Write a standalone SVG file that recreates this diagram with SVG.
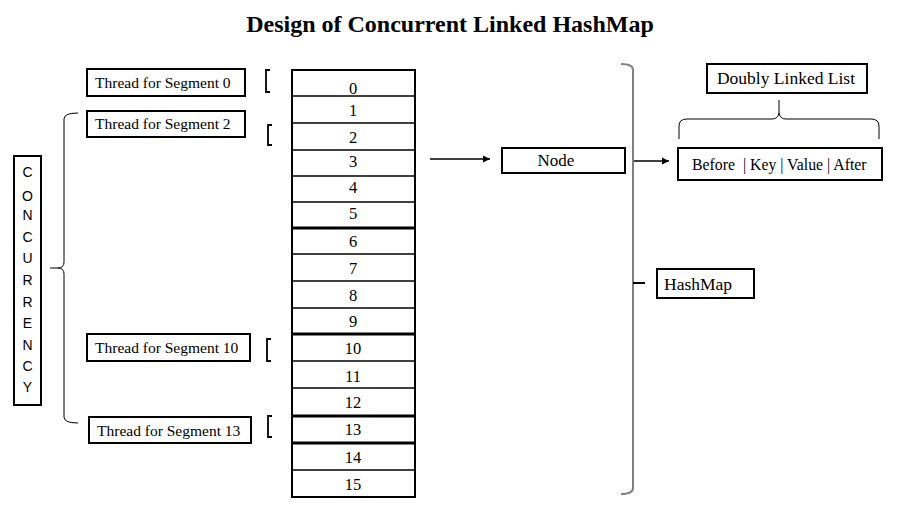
<svg xmlns="http://www.w3.org/2000/svg" width="920" height="523" viewBox="0 0 920 523">
<style>
.box{fill:#fff;stroke:#000;stroke-width:2}
.t{font-family:"Liberation Serif","Times New Roman",serif;fill:#000}
.thr{font-size:15.5px}
.num{font-size:16.5px;text-anchor:middle}
.cell{stroke:#000;stroke-width:1.5}
.thick{stroke:#000;stroke-width:3}
.brk{fill:none;stroke:#000;stroke-width:1.8}
.brace{fill:none;stroke:#000;stroke-width:1}
.conn{stroke:#000;stroke-width:1.6;fill:none}
.sans{font-family:"Liberation Sans",Arial,sans-serif;font-size:14px;text-anchor:middle;fill:#000}
</style>
<defs>
<marker id="ah" markerWidth="8" markerHeight="8" refX="7" refY="4" orient="auto" markerUnits="userSpaceOnUse">
<path d="M0,0.5 L7,4 L0,7.5 Z" fill="#000"/>
</marker>
</defs>
<rect width="920" height="523" fill="#fff"/>
<text class="t" x="450" y="32" font-size="24" font-weight="bold" text-anchor="middle">Design of Concurrent Linked HashMap</text>

<g id="concurrency">
<rect class="box" x="14" y="156" width="27" height="249"/>
<text class="sans" x="27.5" y="177">C</text>
<text class="sans" x="27.5" y="201">O</text>
<text class="sans" x="27.5" y="220">N</text>
<text class="sans" x="27.5" y="242">C</text>
<text class="sans" x="27.5" y="263">U</text>
<text class="sans" x="27.5" y="285">R</text>
<text class="sans" x="27.5" y="307">R</text>
<text class="sans" x="27.5" y="328">E</text>
<text class="sans" x="27.5" y="350">N</text>
<text class="sans" x="27.5" y="371">C</text>
<text class="sans" x="27.5" y="392">Y</text>
</g>

<g id="concurrency-brace">
<path class="brace" d="M78,113 Q64,113 64,119 L64,262 Q64,268 58,268 L50,268 M58,268 Q64,268 64,274 L64,417 Q64,423 78,423"/>
</g>

<g id="thread0">
<rect class="box" x="87" y="69" width="158" height="27"/>
<text class="t thr" x="95" y="88">Thread for Segment 0</text>
</g>
<g id="thread2">
<rect class="box" x="87" y="111" width="158" height="26"/>
<text class="t thr" x="95" y="129">Thread for Segment 2</text>
</g>
<g id="thread10">
<rect class="box" x="87" y="334" width="163" height="27"/>
<text class="t thr" x="95" y="353">Thread for Segment 10</text>
</g>
<g id="thread13">
<rect class="box" x="89" y="417" width="162" height="26"/>
<text class="t thr" x="97" y="436">Thread for Segment 13</text>
</g>

<g id="brackets">
<path class="brk" d="M270,70 L266,70 L266,92 L270,92"/>
<path class="brk" d="M272,125 L268,125 L268,145 L272,145"/>
<path class="brk" d="M271,339 L267,339 L267,361 L271,361"/>
<path class="brk" d="M272,416 L268,416 L268,437 L272,437"/>
</g>

<g id="array">
<rect class="box" x="292" y="70" width="123" height="427"/>
<line class="cell" x1="292" y1="96" x2="415" y2="96"/>
<line class="cell" x1="292" y1="123" x2="415" y2="123"/>
<line class="cell" x1="292" y1="150" x2="415" y2="150"/>
<line class="cell" x1="292" y1="176" x2="415" y2="176"/>
<line class="cell" x1="292" y1="202" x2="415" y2="202"/>
<line class="thick" x1="292" y1="228" x2="415" y2="228"/>
<line class="cell" x1="292" y1="254" x2="415" y2="254"/>
<line class="cell" x1="292" y1="281" x2="415" y2="281"/>
<line class="cell" x1="292" y1="308" x2="415" y2="308"/>
<line class="thick" x1="292" y1="334" x2="415" y2="334"/>
<line class="cell" x1="292" y1="361" x2="415" y2="361"/>
<line class="cell" x1="292" y1="388" x2="415" y2="388"/>
<line class="thick" x1="292" y1="416" x2="415" y2="416"/>
<line class="thick" x1="292" y1="443" x2="415" y2="443"/>
<line class="cell" x1="292" y1="470" x2="415" y2="470"/>
<text class="t num" x="353" y="94">0</text>
<text class="t num" x="353" y="116">1</text>
<text class="t num" x="353" y="143">2</text>
<text class="t num" x="353" y="167">3</text>
<text class="t num" x="353" y="193">4</text>
<text class="t num" x="353" y="219">5</text>
<text class="t num" x="353" y="247">6</text>
<text class="t num" x="353" y="274">7</text>
<text class="t num" x="353" y="301">8</text>
<text class="t num" x="353" y="327">9</text>
<text class="t num" x="353" y="354">10</text>
<text class="t num" x="353" y="382">11</text>
<text class="t num" x="353" y="408">12</text>
<text class="t num" x="353" y="435">13</text>
<text class="t num" x="353" y="463">14</text>
<text class="t num" x="353" y="490">15</text>
</g>

<g id="node">
<rect class="box" x="502" y="148" width="123" height="25"/>
<text class="t" x="556" y="166" font-size="17" text-anchor="middle">Node</text>
</g>

<g id="hashmap-brace">
<path fill="none" stroke="#808080" stroke-width="2" d="M621,64 Q633,64 633,70 L633,488 Q633,494 621,494"/>
<line x1="633" y1="283" x2="645" y2="283" stroke="#000" stroke-width="2"/>
</g>

<g id="hashmap">
<rect class="box" x="657" y="269" width="97" height="29"/>
<text class="t" x="664" y="290" font-size="17.5">HashMap</text>
</g>

<g id="dll-label">
<rect class="box" x="707" y="64" width="160" height="29"/>
<text class="t" x="786" y="84" font-size="17.5" text-anchor="middle">Doubly Linked List</text>
</g>

<g id="dll-brace">
<path class="brace" d="M679,139 L679,126 Q679,119 687,119 L772,119 Q778,119 779,113 L779,100 M779,113 Q780,119 786,119 L871,119 Q879,119 879,126 L879,139"/>
</g>

<g id="list">
<rect class="box" x="678" y="148" width="204" height="32"/>
<text class="t" x="692" y="170" font-size="15.8" xml:space="preserve">Before  | Key | Value | After</text>
</g>

<g id="connectors">
<line class="conn" x1="430" y1="159" x2="490" y2="159" marker-end="url(#ah)"/>
<line class="conn" x1="634" y1="161" x2="669" y2="161" marker-end="url(#ah)"/>
</g>
</svg>
